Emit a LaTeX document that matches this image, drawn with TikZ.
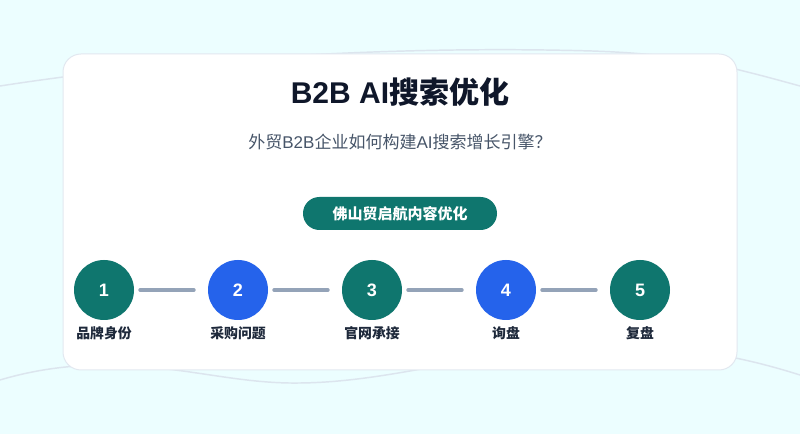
\documentclass[tikz,border=0pt]{standalone}
\usepackage{fontspec}
\setmainfont{Liberation Sans}
\newfontfamily\cjk{Noto Sans CJK SC}
\usepackage{tikz}
\usetikzlibrary{positioning, calc}
\definecolor{pageBg}{HTML}{ECFEFF}
\definecolor{cardBorder}{HTML}{E2E8F0}
\definecolor{waveColor}{HTML}{DCE5EE}
\definecolor{tealColor}{HTML}{0F766E}
\definecolor{blueColor}{HTML}{2563EB}
\definecolor{linkGray}{HTML}{94A3B8}
\definecolor{titleColor}{HTML}{0F172A}
\definecolor{subColor}{HTML}{475569}
\definecolor{labelColor}{HTML}{1E293B}

\begin{document}
\begin{tikzpicture}[
    x=0.75pt, y=-0.75pt,
    card/.style={
        draw=cardBorder, fill=white, line width=0.75pt,
        rounded corners=13.5pt,
        minimum width=505.5pt, minimum height=237pt,
    },
    pill/.style={
        fill=tealColor, text=white, rounded corners=12.3pt,
        minimum width=145.5pt, minimum height=24.75pt,
        font=\cjk\bfseries\fontsize{11.25}{13}\selectfont,
    },
    stepdot/.style={
        circle, inner sep=0pt, minimum size=45pt,
        text=white, font=\bfseries\fontsize{13.5}{16}\selectfont,
    },
    link/.style={
        line width=3pt, line cap=round, color=linkGray,
        shorten <=4.5pt, shorten >=10.5pt,
    },
    steplabel/.style={
        font=\cjk\bfseries\fontsize{10.4}{12}\selectfont,
        text=labelColor,
    },
    wave/.style={line width=1.1pt, color=waveColor},
]

%--- Page background ---
\useasboundingbox (0,0) rectangle (800,434);
\fill[pageBg] (0,0) rectangle (800,434);

%--- Soft background waves ---
\draw[wave] (0,86) .. controls (200,55) and (420,46) .. (592,51)
    .. controls (680,54) and (720,64) .. (800,86);
\draw[wave] (0,380) .. controls (40,368) and (80,364) .. (120,365)
    .. controls (190,368) and (240,384) .. (300,383)
    .. controls (400,382) and (500,345) .. (600,345)
    .. controls (680,345) and (740,356) .. (800,375);

%--- Card ---
\node[card] (card) at (400,212) {};

%--- Heading ---
\node[font=\bfseries\fontsize{22.5}{27}\selectfont, text=titleColor]
    (title) at (400,92) {B2B AI{\cjk 搜索优化}};
\node[font=\fontsize{12.75}{15}\selectfont, text=subColor]
    (subtitle) at (400,142) {{\cjk 外贸}B2B{\cjk 企业如何构建}AI{\cjk 搜索增长引擎？}};

%--- Tag ---
\node[pill] (tag) at (400,213.5) {佛山贸启航内容优化};

%--- Steps ---
\node[stepdot, fill=tealColor] (s1) at (104,290) {1};
\node[stepdot, fill=blueColor] (s2) at (238,290) {2};
\node[stepdot, fill=tealColor] (s3) at (372,290) {3};
\node[stepdot, fill=blueColor] (s4) at (506,290) {4};
\node[stepdot, fill=tealColor] (s5) at (640,290) {5};

\node[steplabel] (l1) at (104,333) {品牌身份};
\node[steplabel] (l2) at (238,333) {采购问题};
\node[steplabel] (l3) at (372,333) {官网承接};
\node[steplabel] (l4) at (506,333) {询盘};
\node[steplabel] (l5) at (640,333) {复盘};

%--- Connectors ---
\draw[link] (s1) -- (s2);
\draw[link] (s2) -- (s3);
\draw[link] (s3) -- (s4);
\draw[link] (s4) -- (s5);

\end{tikzpicture}
\end{document}
